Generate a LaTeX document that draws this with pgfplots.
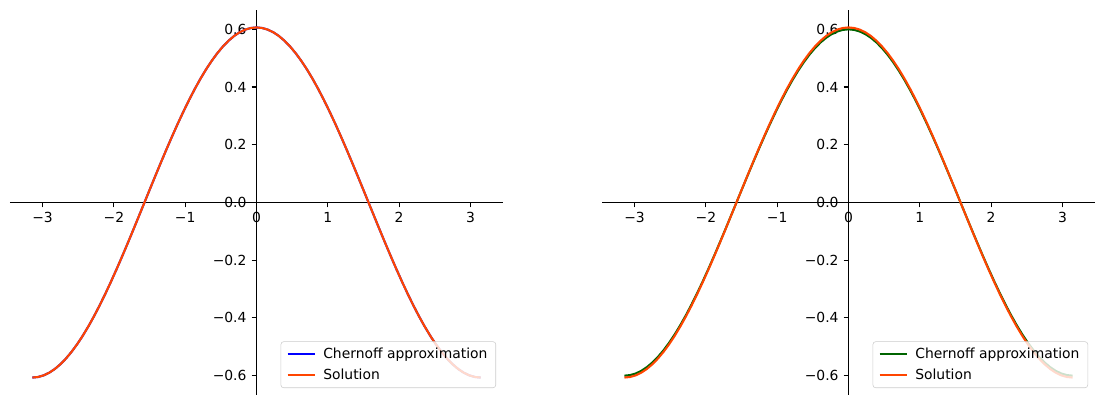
\documentclass[border=0pt]{standalone}
\usepackage{pgfplots}
\pgfplotsset{compat=1.18}
\usepackage{pgfplotstable}
\usepackage{fontspec}
\setmainfont{DejaVu Sans}

% x, solution, Chernoff approximation (left, blue), Chernoff approximation (right, green)
\pgfplotstableread{
x sol blue green
-3.14159 -0.60653 -0.60653 -0.60000
-3.06305 -0.60466 -0.60466 -0.59815
-2.98451 -0.59906 -0.59906 -0.59261
-2.90597 -0.58977 -0.58977 -0.58342
-2.82743 -0.57685 -0.57685 -0.57063
-2.74889 -0.56036 -0.56036 -0.55433
-2.67035 -0.54042 -0.54042 -0.53460
-2.59181 -0.51715 -0.51715 -0.51158
-2.51327 -0.49069 -0.49069 -0.48541
-2.43473 -0.46121 -0.46121 -0.45624
-2.35619 -0.42888 -0.42888 -0.42426
-2.27765 -0.39391 -0.39391 -0.38967
-2.19911 -0.35651 -0.35651 -0.35267
-2.12058 -0.31691 -0.31691 -0.31350
-2.04204 -0.27536 -0.27536 -0.27239
-1.96350 -0.23211 -0.23211 -0.22961
-1.88496 -0.18743 -0.18743 -0.18541
-1.80642 -0.14159 -0.14159 -0.14007
-1.72788 -0.09488 -0.09488 -0.09386
-1.64934 -0.04759 -0.04759 -0.04708
-1.57080 0.00000 0.00000 0.00000
-1.49226 0.04759 0.04759 0.04708
-1.41372 0.09488 0.09488 0.09386
-1.33518 0.14159 0.14159 0.14007
-1.25664 0.18743 0.18743 0.18541
-1.17810 0.23211 0.23211 0.22961
-1.09956 0.27536 0.27536 0.27239
-1.02102 0.31691 0.31691 0.31350
-0.94248 0.35651 0.35651 0.35267
-0.86394 0.39391 0.39391 0.38967
-0.78540 0.42888 0.42888 0.42426
-0.70686 0.46121 0.46121 0.45624
-0.62832 0.49069 0.49069 0.48541
-0.54978 0.51715 0.51715 0.51158
-0.47124 0.54042 0.54042 0.53460
-0.39270 0.56036 0.56036 0.55433
-0.31416 0.57685 0.57685 0.57063
-0.23562 0.58977 0.58977 0.58342
-0.15708 0.59906 0.59906 0.59261
-0.07854 0.60466 0.60466 0.59815
0.00000 0.60653 0.60653 0.60000
0.07854 0.60466 0.60466 0.59815
0.15708 0.59906 0.59906 0.59261
0.23562 0.58977 0.58977 0.58342
0.31416 0.57685 0.57685 0.57063
0.39270 0.56036 0.56036 0.55433
0.47124 0.54042 0.54042 0.53460
0.54978 0.51715 0.51715 0.51158
0.62832 0.49069 0.49069 0.48541
0.70686 0.46121 0.46121 0.45624
0.78540 0.42888 0.42888 0.42426
0.86394 0.39391 0.39391 0.38967
0.94248 0.35651 0.35651 0.35267
1.02102 0.31691 0.31691 0.31350
1.09956 0.27536 0.27536 0.27239
1.17810 0.23211 0.23211 0.22961
1.25664 0.18743 0.18743 0.18541
1.33518 0.14159 0.14159 0.14007
1.41372 0.09488 0.09488 0.09386
1.49226 0.04759 0.04759 0.04708
1.57080 0.00000 0.00000 0.00000
1.64934 -0.04759 -0.04759 -0.04708
1.72788 -0.09488 -0.09488 -0.09386
1.80642 -0.14159 -0.14159 -0.14007
1.88496 -0.18743 -0.18743 -0.18541
1.96350 -0.23211 -0.23211 -0.22961
2.04204 -0.27536 -0.27536 -0.27239
2.12058 -0.31691 -0.31691 -0.31350
2.19911 -0.35651 -0.35651 -0.35267
2.27765 -0.39391 -0.39391 -0.38967
2.35619 -0.42888 -0.42888 -0.42426
2.43473 -0.46121 -0.46121 -0.45624
2.51327 -0.49069 -0.49069 -0.48541
2.59181 -0.51715 -0.51715 -0.51158
2.67035 -0.54042 -0.54042 -0.53460
2.74889 -0.56036 -0.56036 -0.55433
2.82743 -0.57685 -0.57685 -0.57063
2.90597 -0.58977 -0.58977 -0.58342
2.98451 -0.59906 -0.59906 -0.59261
3.06305 -0.60466 -0.60466 -0.59815
3.14159 -0.60653 -0.60653 -0.60000
}\curves

\definecolor{mplorange}{HTML}{FF4500}
\definecolor{mplgreen}{HTML}{006400}
\definecolor{legframe}{HTML}{CCCCCC}

\pgfplotsset{
  halfaxis/.style={
    scale only axis,
    width=354.96pt, height=277.2pt,
    xmin=-3.456, xmax=3.456,
    ymin=-0.667, ymax=0.667,
    axis lines=middle,
    axis line style={-, line width=0.8pt},
    hide obscured x ticks=false,
    hide obscured y ticks=false,
    tick align=outside,
    major tick length=3.5pt,
    tick style={line width=0.8pt, black},
    xtick={-3,-2,-1,0,1,2,3},
    xticklabels={−3,−2,−1,0,1,2,3},
    ytick={-0.6,-0.4,-0.2,0,0.2,0.4,0.6},
    yticklabels={−0.6,−0.4,−0.2,0.0,0.2,0.4,0.6},
    tick label style={font=\fontsize{10}{12}\selectfont},
    xticklabel style={inner sep=0pt, yshift=-3.5pt},
    yticklabel style={inner sep=0pt, xshift=-3.5pt},
    legend style={
      at={(rel axis cs:1,0)}, anchor=south east,
      xshift=-5pt, yshift=5pt,
      draw=legframe, rounded corners=2pt,
      fill=white, fill opacity=0.8, draw opacity=1, text opacity=1,
      font=\fontsize{10}{12}\selectfont,
      row sep=2pt, inner xsep=4pt, inner ysep=2.5pt,
      column sep=3pt,
    },
    legend cell align=left,
    legend image code/.code={\draw[##1] (0pt,0pt) -- (20pt,0pt);},
  },
}

\begin{document}
\begin{tikzpicture}
  \path (0,0) rectangle (794.88pt,291.6pt);

  \begin{axis}[halfaxis, at={(7.2pt,284.4pt)}, anchor=north west]
    \addplot[blue, line width=1.5pt] table[x=x, y=blue] {\curves};
    \addlegendentry{Chernoff approximation}
    \addplot[mplorange, line width=1.5pt] table[x=x, y=sol] {\curves};
    \addlegendentry{Solution}
  \end{axis}

  \begin{axis}[halfaxis, at={(433.44pt,284.4pt)}, anchor=north west]
    \addplot[mplgreen, line width=1.5pt] table[x=x, y=green] {\curves};
    \addlegendentry{Chernoff approximation}
    \addplot[mplorange, line width=1.5pt] table[x=x, y=sol] {\curves};
    \addlegendentry{Solution}
  \end{axis}
\end{tikzpicture}
\end{document}
